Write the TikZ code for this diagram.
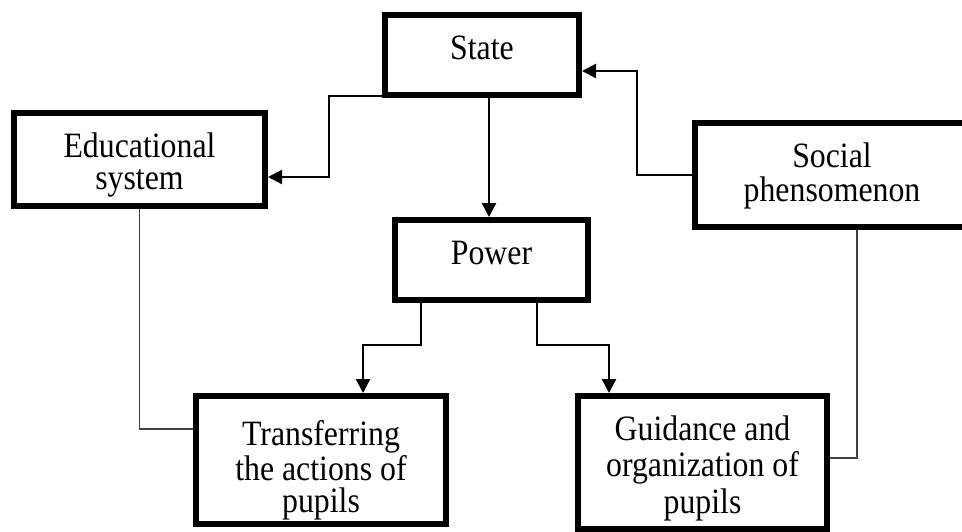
\documentclass[tikz,border=0pt]{standalone}
\usepackage{fontspec}
\setmainfont{Liberation Serif}
\usepackage{graphicx}
\usepackage{tikz}
\usetikzlibrary{arrows.meta,calc}

\begin{document}
\begin{tikzpicture}[x=0.5pt, y=-0.5pt,
        box/.style={draw, line width=3pt, inner sep=0pt, text height=22pt, anchor=base,
            font=\fontsize{15.9}{15.6}\selectfont},
        arr/.style={line width=1.1pt, -{Triangle[length=7pt, width=7pt]}},
        link/.style={line width=0.6pt, black!75}]
            \path[use as bounding box, clip] (0,0) rectangle (962,531);

            \node[box, minimum width=97pt, text depth=18pt] (State) at (482, 59) {\scalebox{1}[1.12]{\parbox[t]{90pt}{\centering State}}};
            \node[box, minimum width=125.5pt, text depth=24.5pt, font=\fontsize{15.9}{14.7}\selectfont] (Edu) at (139.5, 157) {\scalebox{1}[1.12]{\parbox[t]{115pt}{\centering Educational\\system}}};
            \node[box, minimum width=96.5pt, text depth=18pt] (Power) at (491.5, 264) {\scalebox{1}[1.12]{\parbox[t]{90pt}{\centering Power}}};
            \node[box, minimum width=137pt, text depth=30pt] (Social) at (832, 167) {\scalebox{1}[1.12]{\parbox[t]{127pt}{\centering Social\\phensomenon}}};
            \node[box, minimum width=125pt, text height=24.5pt, text depth=39.5pt, font=\fontsize{15.9}{14.6}\selectfont] (Trans) at (321, 445) {\scalebox{1}[1.12]{\parbox[t]{115pt}{\centering Transferring\\the actions of\\pupils}}};
            \node[box, minimum width=124.5pt, text depth=44.5pt, font=\fontsize{15.9}{16.3}\selectfont] (Guid) at (702.5, 440) {\scalebox{1}[1.12]{\parbox[t]{115pt}{\centering Guidance and\\organization of\\pupils}}};

            \draw[arr] ($(State.south west)+(0,-2)$) -- ++(-53,0) |- ($(Edu.east)+(0,17.5)$);
            \draw[arr] ($(State.south)+(7,0)$) -- ($(Power.north)+(-2.5,0)$);
            \draw[arr] (Social.west) -- ++(-55,0) |- ($(State.east)+(0,16)$);
            \draw[arr] ($(Power.south)+(-70.5,0)$) -- ++(0,42) -| ($(Trans.north)+(42,0)$);
            \draw[arr] ($(Power.south)+(45.5,0)$) -- ++(0,42) -| ($(Guid.north)+(-93.5,0)$);

            \draw[link] (Edu.south) |- ($(Trans.west)+(0,-31)$);
            \draw[link] ($(Social.south)+(25,0)$) |- ($(Guid.east)+(0,-4.5)$);
\end{tikzpicture}
\end{document}
